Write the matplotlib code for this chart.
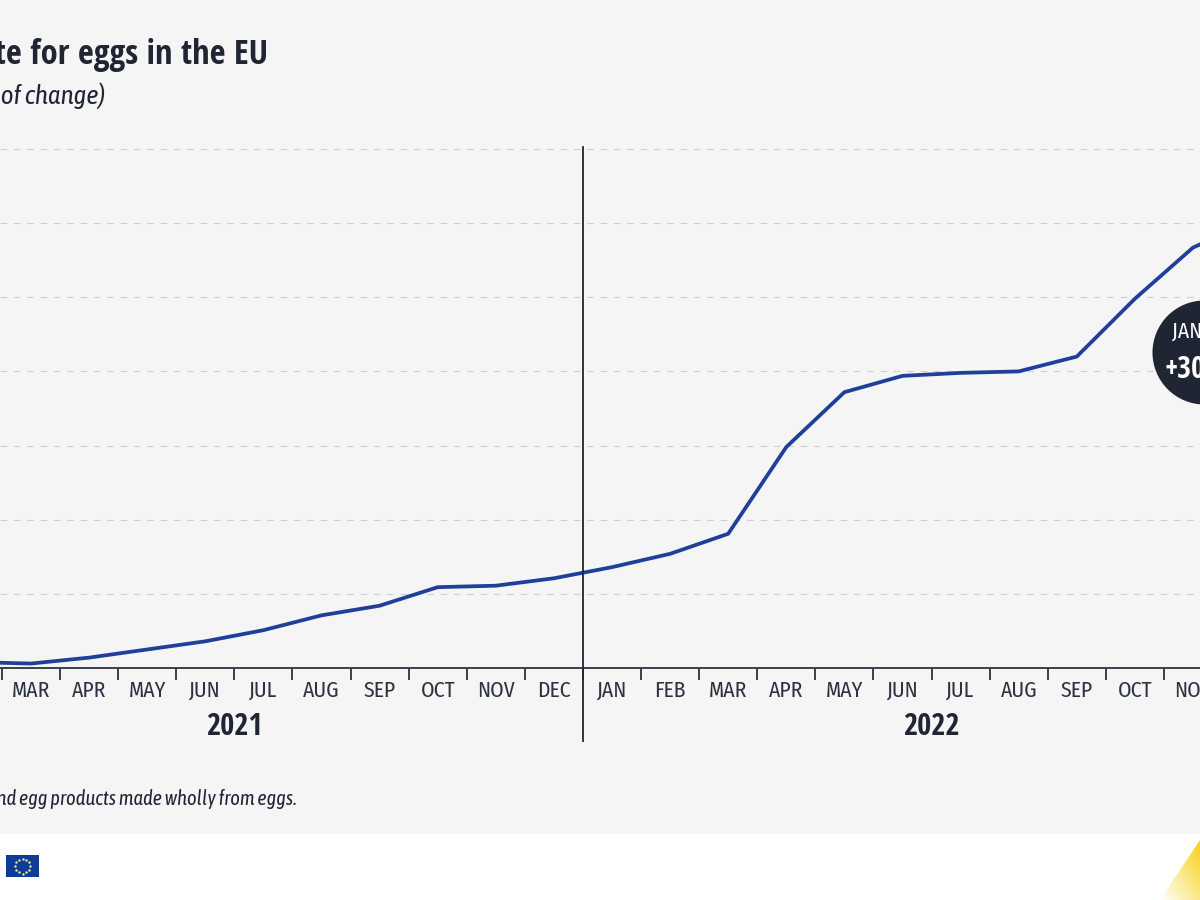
import numpy as np
import matplotlib
matplotlib.use("Agg")
import matplotlib.pyplot as plt
from matplotlib.colors import LinearSegmentedColormap
from matplotlib.patches import Polygon, Rectangle

# Condensed families first, plain ones stay as a fallback
BOLD_FONT = ['Open Sans Condensed', 'Fira Sans Condensed', 'Liberation Sans Narrow', 'Open Sans', 'DejaVu Sans']
TEXT_FONT = ['Fira Sans Condensed', 'Liberation Sans Narrow', 'Open Sans', 'DejaVu Sans']
ITALIC_FONT = ['Asap Condensed', 'Fira Sans Condensed', 'Liberation Sans Narrow', 'Open Sans', 'DejaVu Sans']
plt.rcParams['font.family'] = TEXT_FONT

# Data: Jan 2021 to Dec 2022, the first month is outside the frame
months = ["JAN", "FEB", "MAR", "APR", "MAY", "JUN", "JUL", "AUG", "SEP", "OCT", "NOV", "DEC",
          "JAN", "FEB", "MAR", "APR", "MAY", "JUN", "JUL", "AUG", "SEP", "OCT", "NOV", "DEC"]
rate = [0.4, 0.4, 0.3, 0.7, 1.25, 1.8, 2.55, 3.55, 4.2, 5.45, 5.55, 6.05,
        6.8, 7.7, 9.05, 14.9, 18.6, 19.7, 19.9, 20.0, 21.0, 24.9, 28.35, 30.1]
grid_values = [5, 10, 15, 20, 25, 30, 35]
years = ["2021", "2022"]
year_centres = [5.5, 17.5]

DARK = "#1f2533"
BLUE = "#1f3f99"

fig = plt.figure(figsize=(12, 9), dpi=100, facecolor="white")

# Background layer in pixel coordinates
bg = fig.add_axes([0, 0, 1, 1], zorder=0)
bg.axis("off")
bg.add_patch(Rectangle((0, 0), 1200, 834, color="#f5f5f6", lw=0))

# EU flag
bg.add_patch(Rectangle((6, 855), 33, 22, color="#0f3b98", lw=0))
angles = np.arange(12) * np.pi / 6
bg.scatter(22.5 + 7.5 * np.cos(angles), 866 + 7.5 * np.sin(angles), s=3, color="#f3e7a0", lw=0)

# Yellow corner, fading to white
gradient = np.linspace(0, 1, 200)[None, :] + np.linspace(0, 1, 200)[::-1, None]
corner_cmap = LinearSegmentedColormap.from_list("corner", ["#ffffff", "#fbe88a", "#f7d117"])
corner = bg.imshow(gradient, extent=(1160, 1200, 900, 840), aspect="auto", zorder=2,
                   cmap=corner_cmap, interpolation="bilinear")
clip = Polygon([(1200, 840), (1160, 900), (1200, 900)], transform=bg.transData, fc="none", ec="none")
bg.add_patch(clip)
corner.set_clip_path(clip)
bg.set_xlim(0, 1200)
bg.set_ylim(900, 0)

# Chart layer: limits chosen so the months and gridlines land as in the original
ax = fig.add_axes([0, 0, 1, 1], zorder=1, facecolor="none")
x = np.arange(len(rate))
step = 58.1
per_unit = 14.83

for s in ["top", "left", "right"]:
    ax.spines[s].set_visible(False)
ax.spines["bottom"].set_position(("data", 0))
ax.spines["bottom"].set_color("#3a3f4a")
ax.spines["bottom"].set_linewidth(1.4)

ax.set_xticks(x[:-1] + 0.5)
ax.set_xticklabels([])
ax.set_xticks(x, labels=months, minor=True)
ax.tick_params(axis="x", which="major", length=8.6, width=1.4, color="#3a3f4a", direction="out")
ax.tick_params(axis="x", which="minor", length=0, pad=8.5, labelsize=15.5, labelcolor="#2c3240")

ax.set_yticks(grid_values)
ax.set_yticklabels([])
ax.tick_params(axis="y", length=0)
ax.grid(axis="y", color="#cfcfcf", linewidth=0.8, linestyle=(0, (6, 6)))
ax.set_axisbelow(True)

ax.plot(x, rate, color=BLUE, linewidth=2.7, solid_joinstyle="round", zorder=3)

# Separator between the two years
ax.plot([11.5, 11.5], [(668 - 741) / per_unit, (668 - 147) / per_unit], color=DARK, linewidth=1.3,
        zorder=4, clip_on=False)

for label, centre in zip(years, year_centres):
    ax.annotate(label, xy=(centre, 0), xytext=(0, -42.5), textcoords="offset points",
                ha="center", va="center", fontsize=22, family=BOLD_FONT, fontweight="bold", color=DARK)

# Bubble for the latest value
bubble_x = 2 + (1204 - 31) / step
bubble_y = (668 - 352) / per_unit
ax.scatter([bubble_x], [bubble_y], s=5610, color=DARK, lw=0, zorder=5, clip_on=False)
ax.annotate("JAN 2023", xy=(bubble_x, bubble_y), xytext=(4, 15), textcoords="offset points", ha="center",
            va="center", fontsize=15.5, color="white", zorder=6, annotation_clip=False)
ax.annotate("+30.1%", xy=(bubble_x, bubble_y), xytext=(2.5, -13), textcoords="offset points", ha="center",
            va="center", fontsize=21.5, family=BOLD_FONT, fontweight="bold", color="white", zorder=6,
            annotation_clip=False)

ax.set_xlim(2 - 31 / step, 2 + 1169 / step)
ax.set_ylim(-232 / per_unit, 668 / per_unit)

# Texts, right aligned because the crop cuts them on the left
fig.text(268 / 1200, 1 - 64 / 900, "Annual inflation rate for eggs in the EU", ha="right", va="baseline",
         fontsize=24.8, family=BOLD_FONT, fontweight="bold", color=DARK)
fig.text(105 / 1200, 1 - 104 / 900, "(% rate of change)", ha="right", va="baseline",
         fontsize=19.5, family=ITALIC_FONT, style="italic", color=DARK)
fig.text(297 / 1200, 1 - 805 / 900, "Eggs and egg products made wholly from eggs.", ha="right", va="baseline",
         fontsize=14.8, family=ITALIC_FONT, style="italic", color=DARK)

fig.savefig("out.png", dpi=100, facecolor="white")
